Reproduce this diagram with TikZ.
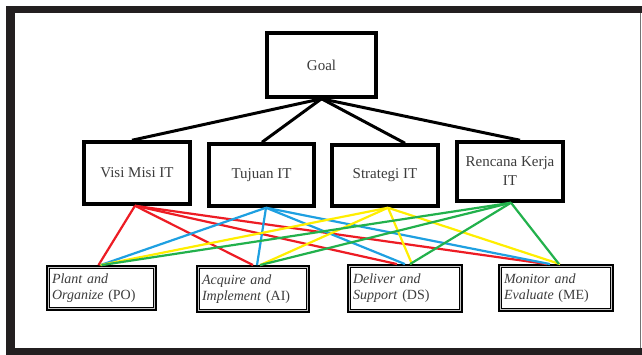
\documentclass[tikz,border=0pt]{standalone}
\usepackage{fontspec}
\setmainfont{Liberation Serif}
\usetikzlibrary{calc}
\definecolor{framedark}{HTML}{231F20}
\definecolor{txtgray}{HTML}{3C3C3C}
\definecolor{cred}{RGB}{237,28,36}
\definecolor{cblue}{RGB}{30,160,225}
\definecolor{cyellow}{RGB}{255,238,0}
\definecolor{cgreen}{RGB}{34,177,76}
\tikzset{
  topbox/.style={draw=black, line width=3.5pt, fill=white, rectangle, inner sep=0pt,
    text=txtgray, align=center, font=\fontsize{15}{19}\selectfont},
  lowbox/.style={draw=black, line width=3.8pt, fill=white, rectangle, inner sep=4pt,
    text=txtgray, align=left, font=\fontsize{14}{16}\selectfont},
  blackline/.style={draw=black, line width=3pt},
  colline/.style={line width=2.2pt},
}
\begin{document}
\begin{tikzpicture}[x=1pt,y=-1pt]
\useasboundingbox (0,0) rectangle (642,355);
% outer frame
\fill[framedark] (6,6) rectangle (642,355);
\fill[white] (15,13) rectangle (642,348);
\draw[black!55, line width=1pt] (640,13) -- (640,348);
\fill[white] (641,13) rectangle (642,348);

% top nodes
\node[topbox, minimum width=109pt, minimum height=64pt] (goal) at (321.5,65) {Goal};
\node[topbox, minimum width=106pt, minimum height=62pt] (visi) at (137,173) {Visi Misi IT};
\node[topbox, minimum width=105pt, minimum height=62pt] (tujuan) at (261.5,175) {Tujuan IT};
\node[topbox, minimum width=106pt, minimum height=61pt] (strategi) at (385,175.5) {Strategi IT};
\node[topbox, minimum width=106pt, minimum height=59pt] (rencana) at (510,171.5) {Rencana Kerja\\IT};

% bottom nodes
\node[lowbox, minimum width=107pt, minimum height=42pt, text width=99pt] (po) at (101.5,288) {\textit{Plant and}\\\textit{Organize} (PO)};
\node[lowbox, minimum width=110pt, minimum height=44pt, text width=102pt] (ai) at (253,289) {\textit{Acquire and}\\\textit{Implement} (AI)};
\node[lowbox, minimum width=112pt, minimum height=45pt, text width=104pt] (ds) at (405,288.5) {\textit{Deliver and}\\\textit{Support} (DS)};
\node[lowbox, minimum width=112pt, minimum height=44pt, text width=104pt] (me) at (556,288) {\textit{Monitor and}\\\textit{Evaluate} (ME)};

% inner grey frames of bottom boxes
\foreach \n in {po,ai,ds,me}{
  \draw[black!22, line width=0.6pt] ([xshift=2.4pt,yshift=-2.4pt]\n.north west) rectangle ([xshift=-2.4pt,yshift=2.4pt]\n.south east);
}

% goal connectors
\coordinate (g) at (goal.south);
\draw[blackline] (g) -- ([xshift=-5pt]visi.north);
\draw[blackline] (g) -- ([xshift=0.5pt]tujuan.north);
\draw[blackline] (g) -- ([xshift=20pt]strategi.north);
\draw[blackline] (g) -- ([xshift=10pt]rencana.north);

% colored connectors
\coordinate (sR) at ([xshift=-2pt]visi.south);
\coordinate (sB) at ([xshift=4.5pt]tujuan.south);
\coordinate (sY) at ([xshift=3pt]strategi.south);
\coordinate (sG) at ([xshift=1pt]rencana.south);

\draw[colline, cred] (sR) -- ([xshift=-3pt]po.north);
\draw[colline, cred] (sR) -- ([xshift=0pt]ai.north);
\draw[colline, cred] (sR) -- ([xshift=-8pt]ds.north);
\draw[colline, cred] (sR) -- ([xshift=-9pt]me.north);

\draw[colline, cblue] (sB) -- ([xshift=-1pt]po.north);
\draw[colline, cblue] (sB) -- ([xshift=4pt]ai.north);
\draw[colline, cblue] (sB) -- ([xshift=0pt]ds.north);
\draw[colline, cblue] (sB) -- ([xshift=-6pt]me.north);

\draw[colline, cyellow] (sY) -- ([xshift=-1pt]po.north);
\draw[colline, cyellow] (sY) -- ([xshift=7pt]ai.north);
\draw[colline, cyellow] (sY) -- ([xshift=7pt]ds.north);
\draw[colline, cyellow] (sY) -- ([xshift=4pt]me.north);

\draw[colline, cgreen] (sG) -- ([xshift=0pt]po.north);
\draw[colline, cgreen] (sG) -- ([xshift=7pt]ai.north);
\draw[colline, cgreen] (sG) -- ([xshift=5pt]ds.north);
\draw[colline, cgreen] (sG) -- ([xshift=3pt]me.north);
\end{tikzpicture}
\end{document}
